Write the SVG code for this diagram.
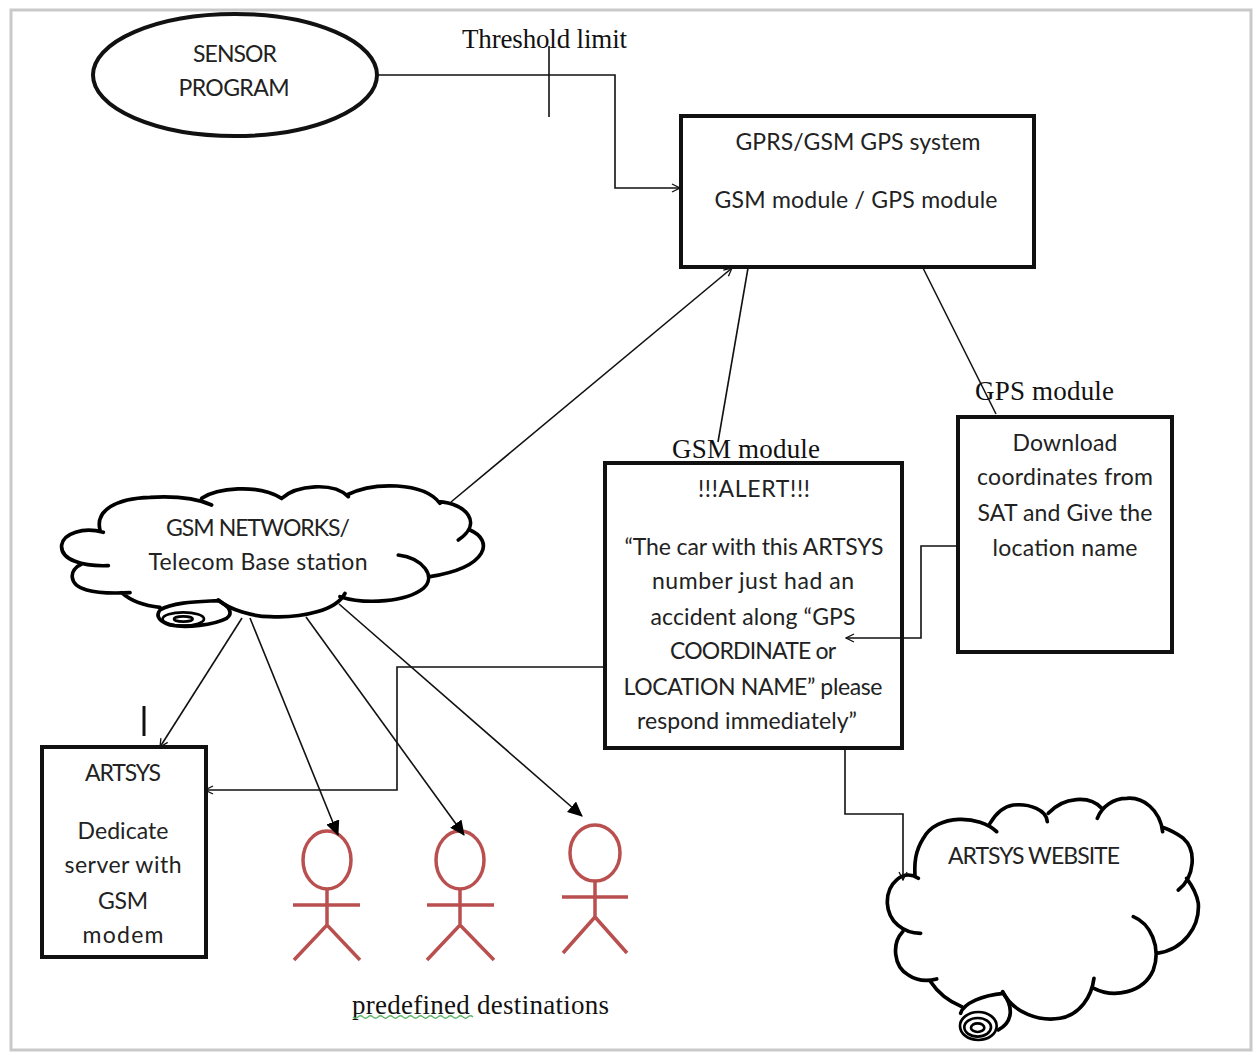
<svg xmlns="http://www.w3.org/2000/svg" width="1254" height="1052" viewBox="0 0 1254 1052">
<style>
.s{font-family:"Lato","Open Sans","Liberation Sans",sans-serif;font-size:23px;fill:#222;text-anchor:middle}
.t{font-family:"Liberation Serif",serif;font-size:27px;fill:#111}
.b{fill:#fff;stroke:#111;stroke-width:4}
.c{fill:none;stroke:#111;stroke-width:1.6}
.k{fill:none;stroke:#000;stroke-width:11;stroke-linecap:round}
.k2{fill:none;stroke:#000;stroke-width:8}
.a{fill:none;stroke:#b94f4f;stroke-width:3.5}
</style>
<defs>
<marker id="o" markerWidth="10" markerHeight="10" refX="9" refY="5" orient="auto" markerUnits="userSpaceOnUse"><path d="M1 1L9 5L1 9" fill="none" stroke="#111" stroke-width="1.3"/></marker>
<marker id="f" markerWidth="16" markerHeight="14" refX="14" refY="7" orient="auto" markerUnits="userSpaceOnUse"><path d="M0 0L15 7L0 14Z" fill="#000"/></marker>
</defs>
<rect x="11" y="10" width="1240" height="1040" fill="#fff" stroke="#c9c9c9" stroke-width="3"/>

<g id="sensor">
<ellipse class="b" cx="235" cy="75" rx="142" ry="61"/>
<text class="s" x="235" y="62" textLength="84">SENSOR</text>
<text class="s" x="234" y="96" textLength="111">PROGRAM</text>
</g>
<text id="threshold" class="t" x="462" y="48" textLength="165">Threshold limit</text>

<g id="gprs">
<rect class="b" x="681" y="116" width="353" height="151"/>
<text class="s" x="858" y="150" textLength="245">GPRS/GSM GPS system</text>
<text class="s" x="856" y="208" textLength="283">GSM module / GPS module</text>
</g>

<g id="gps">
<rect class="b" x="958" y="417" width="214" height="235"/>
<text class="s" x="1065" y="451" textLength="105">Download</text>
<text class="s" x="1065" y="485" textLength="176">coordinates from</text>
<text class="s" x="1065" y="521" textLength="175">SAT and Give the</text>
<text class="s" x="1065" y="556" textLength="145">location name</text>
</g>
<text id="gps-label" class="t" x="975" y="400" textLength="139">GPS module</text>

<g id="alert">
<rect class="b" x="605" y="463" width="297" height="285"/>
<text class="s" x="754" y="497" textLength="112">!!!ALERT!!!</text>
<text class="s" x="754" y="555" textLength="259">“The car with this ARTSYS</text>
<text class="s" x="753" y="589" textLength="202">number just had an</text>
<text class="s" x="753" y="625" textLength="205">accident along “GPS</text>
<text class="s" x="753" y="659" textLength="166">COORDINATE or</text>
<text class="s" x="753" y="695" textLength="259">LOCATION NAME” please</text>
<text class="s" x="747" y="729" textLength="220">respond immediately”</text>
</g>
<text id="gsm-label" class="t" x="672" y="458" textLength="148">GSM module</text>

<g id="gsm-cloud">
<g transform="translate(40,470) scale(.3333)">
<path class="k" d="M205 287C130 290 60 270 65 225C70 190 130 170 190 187M180 180C165 120 230 85 330 82C400 78 470 85 515 105M485 85C530 55 650 40 725 85C770 45 880 35 925 80M920 75C1000 35 1150 35 1200 100M1195 95C1280 100 1330 160 1255 210M1290 180C1360 210 1350 290 1170 320M1075 255C1150 265 1190 320 1150 355C1100 395 980 405 900 380M915 370C890 420 790 445 690 440C640 440 570 420 535 390M125 282C85 300 85 345 140 360C180 372 230 370 270 368M245 368C275 395 320 408 360 412"/>
<path class="k" d="M360 420C400 395 480 395 535 392C570 410 580 430 560 445C520 465 440 475 390 465C360 455 345 440 360 420Z"/>
<ellipse class="k2" cx="430" cy="447" rx="62" ry="20"/>
<ellipse class="k2" cx="430" cy="447" rx="28" ry="8"/>
</g>
<text class="s" x="258" y="536" textLength="184">GSM NETWORKS/</text>
<text class="s" x="258" y="570" textLength="219">Telecom Base station</text>
</g>

<g id="artsys">
<rect class="b" x="42" y="747" width="164" height="210"/>
<text class="s" x="123" y="781" textLength="76">ARTSYS</text>
<text class="s" x="123" y="839" textLength="91">Dedicate</text>
<text class="s" x="123" y="873" textLength="117">server with</text>
<text class="s" x="123" y="909" textLength="50">GSM</text>
<text class="s" x="123" y="943" textLength="81">modem</text>
</g>

<g id="person1">
<ellipse class="a" cx="327" cy="860" rx="24" ry="29"/>
<path class="a" d="M327 889V925M293 905H360M294 960L327 925L360 960"/>
</g>
<g id="person2">
<ellipse class="a" cx="460" cy="860" rx="24" ry="29"/>
<path class="a" d="M460 889V925M427 905H494M427 960L460 925L494 960"/>
</g>
<g id="person3">
<ellipse class="a" cx="595" cy="853" rx="25" ry="28"/>
<path class="a" d="M595 881V917M562 897H628M563 953L595 917L627 953"/>
</g>
<g id="destinations">
<text class="t" x="352" y="1014" textLength="257">predefined destinations</text>
<path d="M353 1017q2.500 2.500 5 0t5 0t5 0t5 0t5 0t5 0t5 0t5 0t5 0t5 0t5 0t5 0t5 0t5 0t5 0t5 0t5 0t5 0t5 0t5 0t5 0t5 0t5 0t5 0" fill="none" stroke="#5fb56a" stroke-width="1.2"/>
</g>

<g id="website">
<g transform="translate(870,780) scale(.3333)">
<path class="k" d="M380 155C330 105 200 100 160 175C135 215 133 250 135 285M145 295C100 265 50 310 52 370C55 425 100 460 152 460M98 455C65 490 70 560 115 585C140 602 170 605 200 597M182 605C205 640 240 665 275 680M398 635C430 700 510 725 570 715C630 705 665 650 672 595M672 625C730 655 820 640 850 570C875 500 840 430 790 410M860 520C940 510 990 440 985 370C980 340 965 315 950 295M925 330C975 290 980 210 940 175C920 160 900 150 878 142M878 155C870 90 820 50 770 55C730 55 695 80 682 115M695 85C660 45 580 50 535 100M532 125C530 90 480 70 430 75C395 80 375 105 360 130"/>
<path class="k" d="M272 700C280 670 340 645 400 640C430 680 430 725 385 750"/>
<ellipse class="k2" cx="325" cy="738" rx="55" ry="42"/>
<ellipse class="k2" cx="323" cy="742" rx="40" ry="28"/>
<ellipse class="k2" cx="323" cy="743" rx="20" ry="13"/>
</g>
<text class="s" x="1034" y="864" textLength="172">ARTSYS WEBSITE</text>
</g>

<g id="connectors">
<path class="c" d="M378 75H615V188H680" marker-end="url(#o)"/>
<path class="c" d="M549 46V117"/>
<path class="c" d="M451 502L732 268" marker-end="url(#o)"/>
<path class="c" d="M748 268L718 442"/>
<path class="c" d="M923 268L996 414"/>
<path class="c" d="M957 546H921V638H846" marker-end="url(#o)"/>
<path class="c" d="M604 667H397V790H205" marker-end="url(#o)"/>
<path class="c" d="M845 749V814H903V880" marker-end="url(#o)"/>
<path class="c" d="M242 618L160 747" marker-end="url(#o)"/>
<path class="c" d="M250 618L338 835" marker-end="url(#f)"/>
<path class="c" d="M306 617L464 835" marker-end="url(#f)"/>
<path class="c" d="M339 604L582 816" marker-end="url(#f)"/>
<path d="M144 706V736" fill="none" stroke="#111" stroke-width="3"/>
</g>
</svg>
